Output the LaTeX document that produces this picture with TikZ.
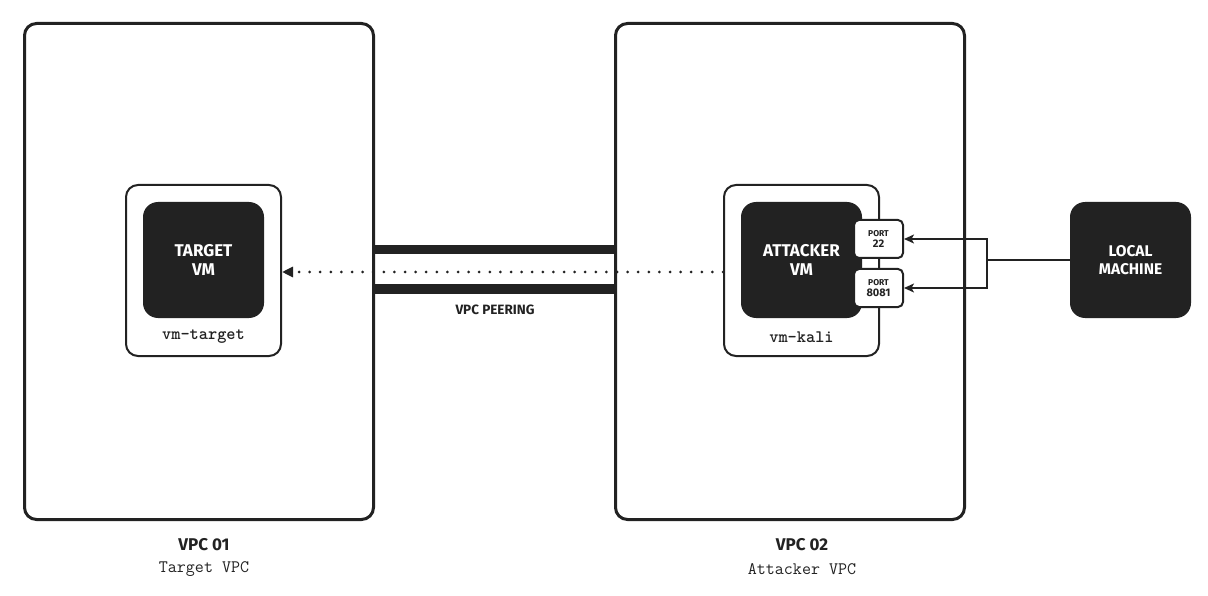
\documentclass[tikz,border=0pt]{standalone}
\usepackage{fontspec}
\setmainfont{Fira Sans}
\usetikzlibrary{arrows.meta}
\definecolor{ink}{HTML}{222222}
\begin{document}
\begin{tikzpicture}[x=1pt,y=-1pt,
  vpc/.style={draw=ink,line width=3pt,rounded corners=12pt,minimum width=349pt,minimum height=496pt,inner sep=0pt},
  vmframe/.style={draw=ink,line width=2pt,rounded corners=12pt,fill=white,minimum width=155pt,minimum height=171pt,inner sep=0pt},
  blackbox/.style={fill=ink,rounded corners=15pt,minimum width=121pt,minimum height=116pt,text=white,font=\bfseries\fontsize{17}{19.5}\selectfont,align=center,inner sep=0pt},
  portbox/.style={draw=ink,line width=2pt,fill=white,rounded corners=5pt,minimum width=49pt,minimum height=38pt,inner sep=0pt,align=center,text=ink},
  bar/.style={draw=ink,line width=9pt},
  conn/.style={draw=ink,line width=1.4pt,-{Stealth[length=10pt,width=9pt,inset=2.5pt]}},
  dotline/.style={draw=ink,line width=3pt,line cap=round,dash pattern=on 0pt off 10.6pt,-{Triangle[length=11pt,width=10pt]}},
  mono/.style={font=\ttfamily\bfseries\addfontfeatures{FakeBold=1.2}\fontsize{17.5}{20}\selectfont,text=ink},
  monolight/.style={font=\ttfamily\addfontfeatures{FakeBold=0.4}\fontsize{17.5}{20}\selectfont,text=ink},
  title/.style={font=\bfseries\fontsize{17}{19}\selectfont,text=ink},
  small/.style={font=\bfseries\fontsize{13.5}{15}\selectfont,text=ink}
]
\useasboundingbox (0,0) rectangle (1208,596);
\fill[white] (0,0) rectangle (1208,596);

% VPC boxes
\node[vpc] (vpc1) at (199,271.5) {};
\node[vpc] (vpc2) at (790,271.5) {};

% peering bars
\coordinate (b1) at (0,250);
\coordinate (b2) at (0,289);
\draw[bar] (vpc1.east |- b1) -- (vpc2.west |- b1);
\draw[bar] (vpc1.east |- b2) -- (vpc2.west |- b2);
\node[small] (peer) at (495,310) {VPC PEERING};

% VM frames
\node[vmframe] (tframe) at (203.5,270.5) {};
\node[blackbox] (tvm) at (203.5,260) {TARGET\\VM};
\node[mono] (tname) at (203.5,337) {vm-target};

\node[vmframe] (kframe) at (801.5,270.5) {};
\node[blackbox] (kvm) at (801.5,260) {ATTACKER\\VM};
\node[mono] (kname) at (801.5,337) {vm-kali};

% ports
\node[portbox] (p22) at (878.5,239) {{\bfseries\fontsize{8.5}{9}\selectfont PORT}\\[-1pt]{\bfseries\fontsize{11}{12}\selectfont 22}};
\node[portbox] (p8081) at (878.5,288) {{\bfseries\fontsize{8.5}{9}\selectfont PORT}\\[-1pt]{\bfseries\fontsize{11}{12}\selectfont 8081}};

% local machine
\node[blackbox,font=\bfseries\fontsize{15.5}{18.5}\selectfont] (local) at (1130.5,260) {LOCAL\\MACHINE};

% dotted flow
\coordinate (dl) at (0,272);
\draw[dotline] (kframe.west |- dl) -- (tframe.east |- dl);

% local connections
\coordinate (j) at (987,260);
\draw[ink,line width=2pt] (local.west) -- (j);
\draw[conn] (j) |- (p22.east);
\draw[conn] (j) |- (p8081.east);

% labels
\node[title] (l1) at (204,545) {VPC 01};
\node[monolight] (l1b) at (204,569) {Target VPC};
\node[title] (l2) at (802,545) {VPC 02};
\node[monolight] (l2b) at (802,569) {Attacker VPC};
\end{tikzpicture}
\end{document}
